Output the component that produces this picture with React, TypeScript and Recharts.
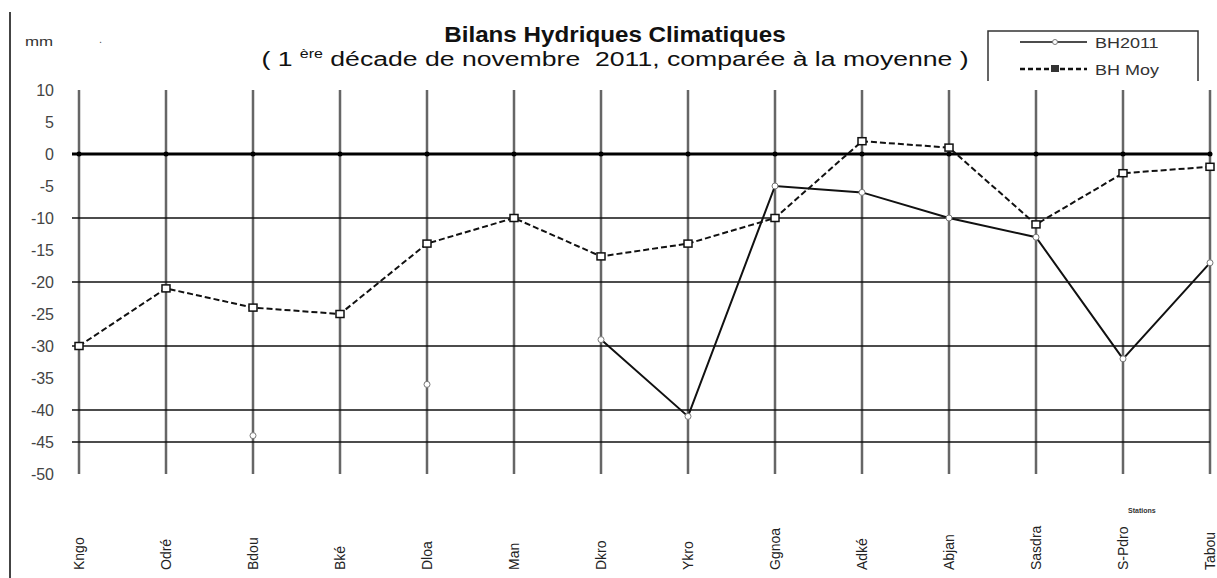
import * as React from "react";
import {
  LineChart,
  Line,
  XAxis,
  YAxis,
  ReferenceLine,
  Legend,
} from "recharts";

const stations = ["Kngo", "Odré", "Bdou", "Bké", "Dloa", "Man", "Dkro", "Ykro", "Ggnoa", "Adké", "Abjan", "Sasdra", "S-Pdro", "Tabou"];
const bh2011 = [null, null, -44, null, -36, null, -29, -41, -5, -6, -10, -13, -32, -17];
const bhMoy = [-30, -21, -24, -25, -14, -10, -16, -14, -10, 2, 1, -11, -3, -2];
const zeroMarks = [0, 0, 0, 0, 0, 0, 0, 0, 0, 0, 0, 0, 0, 0];
const yTicks = [10, 5, 0, -5, -10, -15, -20, -25, -30, -35, -40, -45, -50];
const gridLevels = [-10, -20, -30, -40, -45];

const data = stations.map((name, i) => ({
  name,
  bh2011: bh2011[i],
  bhMoy: bhMoy[i],
  mark: zeroMarks[i],
}));

const FONT = "'Liberation Sans', Arial, sans-serif";

function StationTick(props: any) {
  const { x, payload } = props;
  return (
    <text
      x={x}
      y={570}
      transform={`rotate(-90 ${x} 570)`}
      textAnchor="start"
      dominantBaseline="central"
      fontSize={14}
      fill="#222"
      fontFamily={FONT}
    >
      {payload.value}
    </text>
  );
}

function SquareDot(props: any) {
  const { cx, cy, index } = props;
  if (cy == null || cx == null) return <g key={`sq-${index}`} />;
  return (
    <rect
      key={`sq-${index}`}
      x={cx - 4}
      y={cy - 3.5}
      width={8}
      height={7}
      fill="#fff"
      stroke="#111"
      strokeWidth={1.5}
    />
  );
}

function LegendBox(props: any) {
  const items = props.payload || [];
  const solid = items.find((p: any) => p.dataKey === "bh2011");
  const dashed = items.find((p: any) => p.dataKey === "bhMoy");
  return (
    <svg width={214} height={52} style={{ display: "block", overflow: "visible" }}>
      <path d="M1 51 V1 H211 V51" fill="none" stroke="#333" strokeWidth={1.5} />
      <line x1={33} y1={12} x2={100} y2={12} stroke="#111" strokeWidth={1.5} />
      <circle cx={68} cy={12} r={2.5} fill="#fff" stroke="#777" />
      <text x={108} y={18} fontSize={15} fill="#333" fontFamily={FONT} transform="translate(108 0) scale(1.2 1) translate(-108 0)">
        {solid ? solid.value : ""}
      </text>
      <line x1={33} y1={39} x2={100} y2={39} stroke="#111" strokeWidth={2.5} strokeDasharray="5 3" />
      <rect x={64} y={35} width={8} height={7} fill="#333" />
      <text x={108} y={45} fontSize={15} fill="#333" fontFamily={FONT} transform="translate(108 0) scale(1.2 1) translate(-108 0)">
        {dashed ? dashed.value : ""}
      </text>
    </svg>
  );
}

export default function App() {
  return (
    <div
      style={{
        position: "absolute",
        left: 0,
        top: 0,
        width: 1217,
        height: 578,
        background: "#fff",
        fontFamily: FONT,
      }}
    >
      <div style={{ position: "absolute", left: 9, top: 12, width: 2, height: 566, background: "#444" }} />
      <div
        style={{
          position: "absolute",
          left: 25,
          top: 34,
          fontSize: 13,
          color: "#333",
          transform: "scaleX(1.3)",
          transformOrigin: "left top",
        }}
      >
        mm
      </div>
      <div style={{ position: "absolute", left: 99, top: 33, fontSize: 11, color: "#555" }}>.</div>
      <div
        style={{
          position: "absolute",
          left: 0,
          width: 1230,
          top: 22,
          textAlign: "center",
          fontWeight: "bold",
          fontSize: 22,
          color: "#111",
          transform: "scaleX(1.1)",
          transformOrigin: "615px 0",
        }}
      >
        Bilans Hydriques Climatiques
      </div>
      <div
        style={{
          position: "absolute",
          left: 0,
          width: 1230,
          top: 48,
          textAlign: "center",
          fontSize: 20,
          lineHeight: "23px",
          color: "#111",
          whiteSpace: "pre",
          transform: "scaleX(1.33)",
          transformOrigin: "615px 0",
        }}
      >
        ( 1 <sup style={{ fontSize: 12, lineHeight: 0 }}>ère</sup> décade de novembre  2011, comparée à la moyenne )
      </div>
      <div style={{ position: "absolute", left: 1128, top: 507, fontSize: 7, fontWeight: "bold", color: "#333" }}>
        Stations
      </div>
      <LineChart
        width={1217}
        height={578}
        data={data}
        margin={{ top: 90, right: 7, bottom: 74, left: 12 }}
      >
        <XAxis
          dataKey="name"
          height={30}
          axisLine={false}
          tickLine={false}
          padding={{ left: 7, right: 0 }}
          interval={0}
          tick={<StationTick />}
        />
        <YAxis
          type="number"
          domain={[-50, 10]}
          ticks={yTicks}
          interval={0}
          width={60}
          axisLine={false}
          tickLine={false}
          tickSize={0}
          tickMargin={18}
          tick={{ fill: "#444", fontSize: 16, fontFamily: FONT }}
        />
        {stations.map((s) => (
          <ReferenceLine key={s} x={s} stroke="#666" strokeWidth={2.5} />
        ))}
        {gridLevels.map((v) => (
          <ReferenceLine key={v} y={v} stroke="#111" strokeWidth={1.5} />
        ))}
        <ReferenceLine y={0} stroke="#000" strokeWidth={3} />
        <Line
          dataKey="mark"
          stroke="none"
          strokeWidth={0}
          legendType="none"
          dot={{ r: 2.5, fill: "#000", stroke: "#000" }}
          activeDot={false}
          isAnimationActive={false}
        />
        <Line
          dataKey="bhMoy"
          name="BH Moy"
          type="linear"
          stroke="#111"
          strokeWidth={2}
          strokeDasharray="6 3"
          dot={<SquareDot />}
          activeDot={false}
          isAnimationActive={false}
        />
        <Line
          dataKey="bh2011"
          name="BH2011"
          type="linear"
          stroke="#111"
          strokeWidth={2}
          connectNulls={false}
          dot={{ r: 3, fill: "#fff", stroke: "#777", strokeWidth: 1 }}
          activeDot={false}
          isAnimationActive={false}
        />
        <Legend
          layout="horizontal"
          verticalAlign="middle"
          align="center"
          content={<LegendBox />}
          wrapperStyle={{ position: "absolute", left: 987, top: 30, width: 214, height: 52 }}
        />
      </LineChart>
    </div>
  );
}
